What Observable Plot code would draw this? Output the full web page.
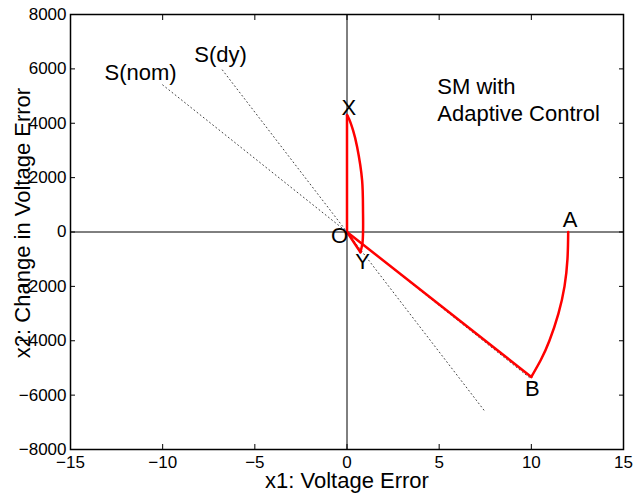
<!DOCTYPE html>
<html><head><meta charset="utf-8">
<script src="https://cdn.jsdelivr.net/npm/d3@7"></script>
<script src="https://cdn.jsdelivr.net/npm/@observablehq/plot@0.6"></script>
<style>body{margin:0;background:#fff}</style>
</head><body><div id="chart"></div>
<script>
const xTicks = [-15, -10, -5, 0, 5, 10, 15];
const yTicks = [-8000, -6000, -4000, -2000, 0, 2000, 4000, 6000, 8000];
// reaching curve A -> B
const curveAB_x = [12, 11.96, 11.8, 11.47, 10.98, 10.52, 10];
const curveAB_y = [0, -1000, -2000, -3000, -4000, -4700, -5330];
// straight segments B -> O -> X
const lineBOX_x = [10, 0, 0];
const lineBOX_y = [-5330, 0, 4300];
// curve X -> Y
const curveXY_x = [0, 0.05, 0.33, 0.55, 0.82, 0.87, 0.87, 0.84, 0.73];
const curveXY_y = [4300, 4250, 3740, 3130, 1900, 680, 0, -400, -745];
// Y back to O
const lineYO_x = [0.73, 0];
const lineYO_y = [-745, 0];
// sliding lines
const sNom_x = [-10, 10];
const sNom_y = [5410, -5410];
const sDy_x = [-6.76, 7.5];
const sDy_y = [5960, -6615];
// annotations
const labels = [
  {t: "S(nom)", x: -11.2, y: 5850},
  {t: "S(dy)", x: -6.86, y: 6510},
  {t: "X", x: 0.1, y: 4550},
  {t: "O", x: -0.4, y: -130},
  {t: "Y", x: 0.84, y: -1120},
  {t: "A", x: 12.1, y: 460},
  {t: "B", x: 10.05, y: -5780}
];
const notes = [
  {t: "SM with", x: 4.9, y: 5330},
  {t: "Adaptive Control", x: 4.9, y: 4340}
];
const zip = (xs, ys) => xs.map((x, i) => ({x, y: ys[i]}));
const fmt = d3.format("d");

const chart = Plot.plot({
  width: 634, height: 498,
  marginLeft: 70, marginRight: 11, marginTop: 14, marginBottom: 49,
  style: {fontFamily: "'Liberation Sans', Arial, sans-serif", fontSize: "17px", background: "#fff", color: "#000"},
  x: {domain: [-15, 15]},
  y: {domain: [-8000, 8000]},
  marks: [
    Plot.ruleX([0], {stroke: "black", strokeWidth: 1}),
    Plot.ruleY([0], {stroke: "black", strokeWidth: 1}),
    Plot.line(zip(sNom_x, sNom_y), {x: "x", y: "y", stroke: "#444", strokeWidth: 1, strokeDasharray: "1,3"}),
    Plot.line(zip(sDy_x, sDy_y), {x: "x", y: "y", stroke: "#444", strokeWidth: 1, strokeDasharray: "1,3"}),
    Plot.line(zip(curveAB_x, curveAB_y), {x: "x", y: "y", stroke: "red", strokeWidth: 2.5, curve: "natural"}),
    Plot.line(zip(lineBOX_x, lineBOX_y), {x: "x", y: "y", stroke: "red", strokeWidth: 2.5}),
    Plot.line(zip(curveXY_x, curveXY_y), {x: "x", y: "y", stroke: "red", strokeWidth: 2.5, curve: "catmull-rom"}),
    Plot.line(zip(lineYO_x, lineYO_y), {x: "x", y: "y", stroke: "red", strokeWidth: 2.5}),
    Plot.axisX(xTicks, {anchor: "bottom", tickSize: -5, tickPadding: 11, tickFormat: fmt, label: null, fontSize: 17}),
    Plot.axisX(xTicks, {anchor: "top", tickSize: -5, tickFormat: () => "", label: null}),
    Plot.axisY(yTicks, {anchor: "left", tickSize: -5, tickPadding: 9, tickFormat: fmt, label: null, fontSize: 17}),
    Plot.axisY(yTicks, {anchor: "right", tickSize: -5, tickFormat: () => "", label: null}),
    Plot.frame({stroke: "black", strokeWidth: 1.5}),
    Plot.text(labels, {x: "x", y: "y", text: "t", fontSize: 22, fill: "black"}),
    Plot.text(notes, {x: "x", y: "y", text: "t", fontSize: 22, fill: "black", textAnchor: "start"}),
    Plot.text(["x1: Voltage Error"], {frameAnchor: "bottom", textAnchor: "middle", dy: 38, fontSize: 22, fill: "black"}),
    Plot.text(["x2: Change in Voltage Error"], {frameAnchor: "left", textAnchor: "middle", rotate: -90, dx: -48, dy: -9, fontSize: 22, fill: "black"})
  ]
});
document.getElementById("chart").appendChild(chart);
</script>
</body></html>
